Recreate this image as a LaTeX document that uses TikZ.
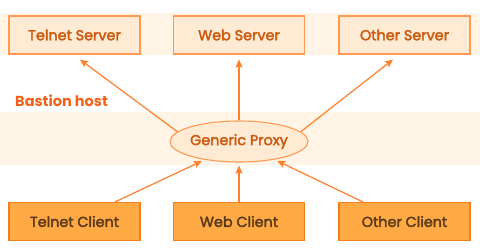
\documentclass[tikz,border=0pt]{standalone}
\usepackage{fontspec}
\setmainfont{Poppins}
\newfontfamily\labelfont{Poppins}[FakeBold=2.5]
\usetikzlibrary{shapes.geometric,arrows.meta}
\definecolor{band}{HTML}{FFF4E6}
\definecolor{srvfill}{HTML}{FFEBD4}
\definecolor{srvline}{HTML}{FF9A55}
\definecolor{srvtext}{HTML}{CC5A10}
\definecolor{clifill}{HTML}{FFAA44}
\definecolor{cliline}{HTML}{F07F1E}
\definecolor{clitext}{HTML}{5A3A18}
\definecolor{hosttext}{HTML}{F5601A}
\definecolor{arrow}{HTML}{FF7F2A}
\tikzset{
  labeltext/.style={font=\labelfont\fontsize{14.4}{16}\selectfont},
  server/.style={draw=srvline, fill=srvfill, line width=1.1pt, minimum width=131pt,
    minimum height=38pt, inner sep=0pt, text=srvtext, labeltext},
  client/.style={draw=cliline, fill=clifill, line width=1.1pt, minimum width=131pt,
    minimum height=38pt, inner sep=0pt, text=clitext, labeltext},
  proxy/.style={ellipse, draw=srvline, fill=srvfill, line width=1.1pt, minimum width=133pt,
    minimum height=41pt, inner sep=0pt, text=srvtext, labeltext},
  link/.style={draw=arrow, line width=1.2pt, -{Stealth[length=8pt,width=7pt,inset=1.5pt]}},
}
\begin{document}
\begin{tikzpicture}[x=1pt,y=-1pt]
  \useasboundingbox (0,0) rectangle (480,251);
  % shaded zones
  \fill[band] (0,13) rectangle (480,55);
  \fill[band] (0,112) rectangle (480,165);

  % servers
  \node[server] (tserver) at (74.5,35) {Telnet Server};
  \node[server] (wserver) at (239,35) {Web Server};
  \node[server] (oserver) at (404.5,35) {Other Server};

  % bastion host label
  \node[anchor=base west, inner sep=0pt, text=hosttext,
        font=\fontsize{14.5}{16}\selectfont\bfseries] (bastion) at (15,107) {Bastion host};

  % proxy
  \node[proxy] (proxy) at (239,141.5) {Generic Proxy};

  % clients
  \node[client] (tclient) at (74.5,221.5) {Telnet Client};
  \node[client] (wclient) at (239,221.5) {Web Client};
  \node[client] (oclient) at (404.5,221.5) {Other Client};

  % arrow end points just below the servers
  \coordinate (ts) at ([xshift=5.5pt,yshift=-5pt]tserver.south);
  \coordinate (ws) at ([yshift=-5pt]wserver.south);
  \coordinate (os) at ([xshift=-11.5pt,yshift=-5pt]oserver.south);

  % proxy to servers
  \draw[link] (proxy.171) -- (ts);
  \draw[link] (proxy.north) -- (ws);
  \draw[link] (proxy.9) -- (os);

  % clients to proxy
  \draw[link, shorten >=3pt] ([xshift=40.5pt]tclient.north) -- (proxy.208);
  \draw[link, shorten >=3pt] (wclient.north) -- (proxy.south);
  \draw[link, shorten >=3pt] ([xshift=-41.5pt]oclient.north) -- (proxy.333);
\end{tikzpicture}
\end{document}
